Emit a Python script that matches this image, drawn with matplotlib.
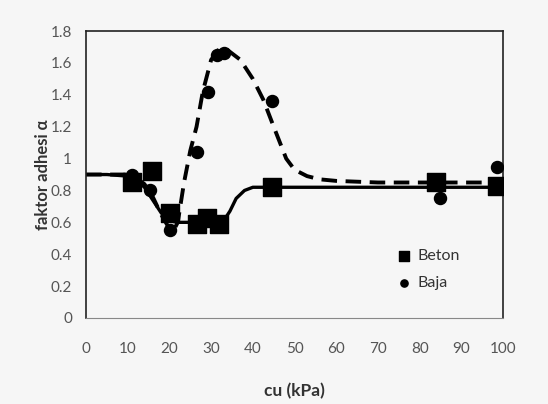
import matplotlib.pyplot as plt

plt.rcParams['font.family'] = ['Lato', 'DejaVu Sans']

# measured points
beton_x = [11, 15.8, 20.1, 26.5, 29, 32, 44.5, 84, 98.5]
beton_y = [0.85, 0.92, 0.66, 0.59, 0.63, 0.59, 0.82, 0.85, 0.83]

baja_x = [11, 15.3, 20.1, 26.5, 29.3, 31.5, 33, 44.5, 84.9, 98.5]
baja_y = [0.90, 0.80, 0.55, 1.04, 1.42, 1.65, 1.66, 1.36, 0.75, 0.95]

# fitted curves
beton_fit_x = [0, 5, 10, 12, 14, 16, 18, 20, 22, 25, 30, 33, 34.5, 36, 38, 40, 43, 50, 60, 80, 100]
beton_fit_y = [0.90, 0.90, 0.89, 0.87, 0.82, 0.74, 0.66, 0.61, 0.60, 0.60, 0.60, 0.61, 0.67, 0.75, 0.80, 0.82, 0.82, 0.82, 0.82, 0.82, 0.82]

baja_fit_x = [0, 5, 10, 12, 14, 16, 18, 20, 21, 22, 23.5, 25, 26.5, 28, 30, 32, 34, 37, 40, 42.5, 45, 46.5, 48, 50, 53, 56, 60, 70, 80, 100]
baja_fit_y = [0.90, 0.90, 0.90, 0.88, 0.84, 0.76, 0.65, 0.56, 0.55, 0.60, 0.85, 1.05, 1.20, 1.42, 1.62, 1.69, 1.68, 1.62, 1.50, 1.37, 1.20, 1.10, 1.00, 0.93, 0.89, 0.87, 0.86, 0.85, 0.85, 0.85]

fig = plt.figure(figsize=(5.48, 4.04), dpi=100)
fig.patch.set_facecolor('#f6f6f6')
ax = fig.add_axes([0.157, 0.213, 0.761, 0.710])
ax.set_facecolor('#f6f6f6')

ax.plot(beton_fit_x, beton_fit_y, color='black', linewidth=2.4, zorder=2)
ax.plot(baja_fit_x, baja_fit_y, color='black', linewidth=2.8,
        linestyle=(0, (4, 2.2)), zorder=2)

ax.scatter(beton_x, beton_y, marker='s', s=170, color='black', label='Beton', zorder=3)
ax.scatter(baja_x, baja_y, marker='o', s=75, color='black', label='Baja', zorder=4)

ax.set_xlim(0, 100)
ax.set_ylim(0, 1.8)
ax.set_xticks(range(0, 101, 10))
ax.set_yticks([0, 0.2, 0.4, 0.6, 0.8, 1, 1.2, 1.4, 1.6, 1.8])
ax.set_yticklabels(['0', '0.2', '0.4', '0.6', '0.8', '1', '1.2', '1.4', '1.6', '1.8'])
ax.tick_params(length=0, labelsize=11, colors='#555555', pad=10)
ax.tick_params(axis='x', pad=17)

for side in ['left', 'top', 'right']:
    ax.spines[side].set_color('#222222')
    ax.spines[side].set_linewidth(1.2)
ax.spines['bottom'].set_color('#888888')

ax.set_xlabel('cu (kPa)', fontsize=12.5, fontweight='bold', color='#333333', labelpad=20)
ax.set_ylabel('faktor adhesi α', fontsize=12, fontweight='bold', color='#333333', labelpad=0)

ax.legend(frameon=False, loc='center', bbox_to_anchor=(0.81, 0.17),
          handletextpad=-0.2, markerscale=0.6, fontsize=11.5, labelspacing=0.8,
          labelcolor='#333333')

plt.savefig('out.png', dpi=100, facecolor=fig.get_facecolor())
